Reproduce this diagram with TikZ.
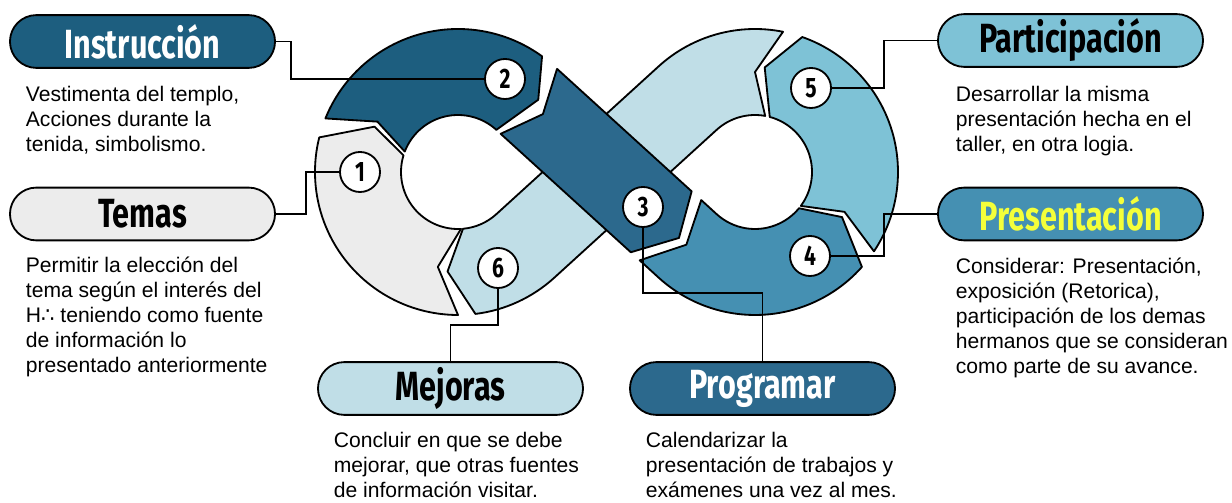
\documentclass[tikz,border=0pt]{standalone}
\usepackage{fontspec}
\setmainfont{Liberation Sans}
\newfontfamily\headfont[FakeStretch=0.75]{Fira Sans}
\newfontfamily\symbfont{DejaVu Sans}
\usetikzlibrary{calc}
\definecolor{cdark}{HTML}{1D5E7F}
\definecolor{cband}{HTML}{2C698D}
\definecolor{cmid}{HTML}{4590B2}
\definecolor{csky}{HTML}{7EC2D6}
\definecolor{cpale}{HTML}{C0DEE7}
\definecolor{cgrey}{HTML}{ECECEC}
\definecolor{cyellow}{HTML}{F4FF3A}
\tikzset{
  every picture/.style={line width=1.3pt},
  seg/.style={draw=black, fill=#1, line join=round},
  pill/.style={draw=black, fill=#1, rounded corners=0.66cm, minimum width=6.625cm, minimum height=1.32cm, inner sep=0pt, font=\headfont\bfseries\fontsize{29}{30}\selectfont},
  num/.style={circle, draw=black, fill=white, minimum size=1cm, inner sep=0pt, font=\headfont\bfseries\fontsize{20}{20}\selectfont},
  note/.style={anchor=base west, align=left, inner sep=0pt, font=\fontsize{15}{17.8}\selectfont},
  link/.style={draw=black, line width=1.1pt},
}
\begin{document}
\begin{tikzpicture}[x=0.025cm, y=-0.025cm]
  \useasboundingbox (0,0) rectangle (1232,503);
  \coordinate (C1) at (458,172);
  \coordinate (C2) at (755,172);
  \coordinate (M) at (606.5,172);
  % crossing band, points along the band and across it
  \coordinate (b3a) at ($(M)+(42.3:-106)+(-47.7:43)$);
  \coordinate (b3b) at ($(M)+(42.3:76)+(-47.7:43)$);
  \coordinate (b3c) at ($(M)+(42.3:98)$);
  \coordinate (b3d) at ($(M)+(42.3:72)+(-47.7:-43)$);
  \coordinate (b3e) at ($(M)+(42.3:-104)+(-47.7:-43)$);
  \coordinate (b3f) at ($(M)+(42.3:-86)$);
  % 6 goes under the crossing band
  \draw[seg=cpale] ($(C2)+(-78.7:143)$) arc[start angle=-78.7, end angle=-132.3, radius=143]
    -- ($(C1)+(47.7:57)$) arc[start angle=47.7, end angle=85, radius=57]
    -- ($(C1)+(96:100)$) -- ($(C1)+(83:143)$) arc[start angle=83, end angle=47.7, radius=143]
    -- ($(C2)+(-132.3:57)$) arc[start angle=-132.3, end angle=-79.7, radius=57]
    -- ($(C2)+(-90:100)$) -- cycle;
  % 1
  \draw[seg=cgrey] ($(C1)+(90:143)$) arc[start angle=90, end angle=194, radius=143]
    -- ($(C1)+(208.5:95)$) -- ($(C1)+(197:57)$) arc[start angle=197, end angle=87, radius=57]
    -- ($(C1)+(102:97)$) -- cycle;
  % 2
  \draw[seg=cdark] ($(C1)+(202:143)$) arc[start angle=202, end angle=306, radius=143]
    -- ($(C1)+(318:108)$) -- ($(C1)+(312.3:57)$) arc[start angle=312.3, end angle=201, radius=57]
    -- ($(C1)+(212:95)$) -- cycle;
  % 4
  \draw[seg=cmid] ($(M)+(42.3:84)+(-47.7:-43)$) -- ($(C2)+(132.3:143)$) arc[start angle=132.3, end angle=41.6, radius=143]
    -- ($(C2)+(27.4:98)$) -- ($(C2)+(39.5:57)$) arc[start angle=39.5, end angle=132.3, radius=57]
    -- ($(M)+(42.3:89)+(-47.7:43)$) -- ($(M)+(42.3:108)$) -- cycle;
  % 5
  \draw[seg=csky] ($(C2)+(33.7:143)$) arc[start angle=33.7, end angle=-70.7, radius=143]
    -- ($(C2)+(-84.7:105)$) -- ($(C2)+(-75:57)$) arc[start angle=-75, end angle=36.5, radius=57]
    -- ($(C2)+(24:98)$) -- cycle;
  % 3 on top
  \draw[seg=cband] (b3a) -- (b3b) -- (b3c) -- (b3d) -- (b3e) -- (b3f) -- cycle;

  \node[pill=cdark, text=white] (instr) at (142.5,41.5) {Instrucción};
  \node[pill=cgrey] (temas) at (142.5,214) {Temas};
  \node[pill=csky] (partic) at (1070.5,40.5) {Participación};
  \node[pill=cmid, text=cyellow] (present) at (1070.5,214) {Presentación};
  \node[pill=cpale] (mejoras) at (450.5,388.5) {Mejoras};
  \node[pill=cband, text=white] (prog) at (762.5,388.5) {Programar};

  % notes: anchored at the baseline of their last line
  \node[note] (tinstr) at (25,152) {Vestimenta del templo,\\Acciones durante la\\tenida, simbolismo.};
  \node[note] (ttemas) at (25,373) {Permitir la elección del\\tema según el interés del\\H{\symbfont∴} teniendo como fuente\\de información lo\\presentado anteriormente};
  \node[note] (tpartic) at (955,152) {Desarrollar la misma\\presentación hecha en el\\taller, en otra logia.};
  \node[note] (tpresent) at (955,374) {Considerar: Presentación,\\exposición (Retorica),\\participación de los demas\\hermanos que se consideran\\como parte de su avance.};
  \node[note] (tmejoras) at (333,498) {Concluir en que se debe\\mejorar, que otras fuentes\\de información visitar.};
  \node[note] (tprog) at (645,498) {Calendarizar la\\presentación de trabajos y\\exámenes una vez al mes.};

  \node[num] (n1) at (360,172) {1};
  \node[num] (n2) at (505,79) {2};
  \node[num] (n3) at (643,207) {3};
  \node[num] (n4) at (810,256) {4};
  \node[num] (n5) at (811,88) {5};
  \node[num] (n6) at (498,268) {6};

  \draw[link] (instr.east) -- ++(15,0) |- (n2);
  \draw[link] (temas.east) -- ++(30,0) |- (n1);
  \draw[link] (partic.west) -- ++(-53,0) |- (n5);
  \draw[link] (present.west) -- ++(-53,0) |- (n4);
  \draw[link] (n3) -- ++(0,86) -| (prog);
  \draw[link] (n6) -- ++(0,57) -| (mejoras);
\end{tikzpicture}
\end{document}
